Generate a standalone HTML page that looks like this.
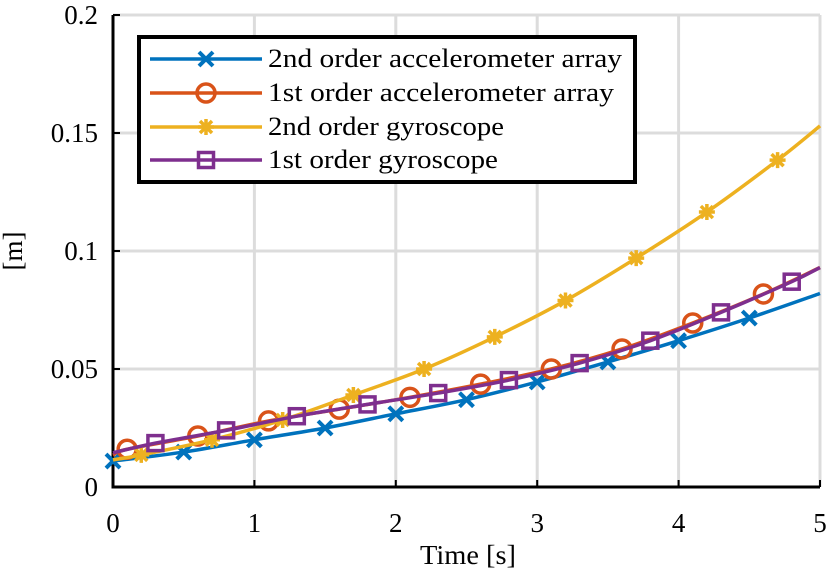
<!DOCTYPE html>
<html><head><meta charset="utf-8"><style>
body{margin:0;background:#fff}
svg{display:block;font-family:"Liberation Serif",serif}
</style></head><body>
<svg id="chart" width="830" height="576" viewBox="0 0 830 576"></svg>
<script>
const xTicks=[0,1,2,3,4,5];
const yTicks=[0,0.05,0.1,0.15,0.2];
const yTickLabels=["0","0.05","0.1","0.15","0.2"];
const blueT=[0,0.5,1,1.5,2,2.5,3,3.5,4,4.5,5];
const blueV=[0.011,0.0148,0.020,0.025,0.031,0.037,0.0445,0.053,0.062,0.0716,0.082];
const blueM=[0,0.5,1,1.5,2,2.5,3,3.5,4,4.5];
const orangeT=[0,0.1,0.6,1.1,1.6,2.1,2.6,3.1,3.6,4.1,4.6,5];
const orangeV=[0.0135,0.016,0.0216,0.028,0.033,0.038,0.0436,0.050,0.0585,0.0695,0.0818,0.093];
const orangeM=[0.1,0.6,1.1,1.6,2.1,2.6,3.1,3.6,4.1,4.6];
const yellowT=[0,0.2,0.7,1.2,1.7,2.2,2.7,3.2,3.7,4.2,4.7,5];
const yellowV=[0.0115,0.0136,0.020,0.0284,0.039,0.050,0.0636,0.079,0.097,0.1165,0.1385,0.153];
const yellowM=[0.2,0.7,1.2,1.7,2.2,2.7,3.2,3.7,4.2,4.7];
const purpleT=[0,0.3,0.8,1.3,1.8,2.3,2.8,3.3,3.8,4.3,4.8,5];
const purpleV=[0.0145,0.0186,0.024,0.030,0.035,0.0398,0.0453,0.0525,0.062,0.074,0.087,0.093];
const purpleM=[0.3,0.8,1.3,1.8,2.3,2.8,3.3,3.8,4.3,4.8];
const legendLabels=["2nd order accelerometer array","1st order accelerometer array","2nd order gyroscope","1st order gyroscope"];
const legendWidths=[354,346,236,230];

const X0=113,X1=820,Y0=487,Y1=15;
const sx=t=>X0+(X1-X0)*t/5;
const sy=v=>Y0-(Y0-Y1)*v/0.2;
const svg=document.getElementById('chart');
const NS='http://www.w3.org/2000/svg';
function mk(tag,attrs,parent){const e=document.createElementNS(NS,tag);for(const k in attrs)e.setAttribute(k,attrs[k]);(parent||svg).appendChild(e);return e;}
function interp(T,V,t){for(let i=0;i<T.length-1;i++){if(t>=T[i]&&t<=T[i+1]){const f=(t-T[i])/(T[i+1]-T[i]);return V[i]+f*(V[i+1]-V[i]);}}return V[V.length-1];}
const grid=mk('g',{});


xTicks.forEach(t=>{if(t>0)mk('line',{x1:sx(t),x2:sx(t),y1:Y1,y2:Y0,stroke:'#dcdcdc','stroke-width':3},grid);});
yTicks.forEach(v=>{if(v>0)mk('line',{x1:X0,x2:X1,y1:sy(v),y2:sy(v),stroke:'#dcdcdc','stroke-width':3},grid);});
const ax=mk('g',{});


mk('line',{x1:X0,x2:X0,y1:Y1,y2:Y0+1.5,stroke:'#000','stroke-width':3},ax);
mk('line',{x1:X0-1.5,x2:X1,y1:Y0,y2:Y0,stroke:'#000','stroke-width':3},ax);
xTicks.forEach(t=>{mk('line',{x1:sx(t),x2:sx(t),y1:Y0,y2:Y0-7,stroke:'#000','stroke-width':2},ax);
 const tx=mk('text',{x:sx(t),y:Y0+45,'text-anchor':'middle','font-size':27},ax);tx.textContent=t;
 });
yTicks.forEach((v,i)=>{mk('line',{x1:X0,x2:X0+7,y1:sy(v),y2:sy(v),stroke:'#000','stroke-width':2},ax);
 const tx=mk('text',{x:X0-15,y:sy(v)+9,'text-anchor':'end','font-size':27},ax);tx.textContent=yTickLabels[i];
 });
const xl=mk('text',{x:468,y:564,'text-anchor':'middle','font-size':27,textLength:96,lengthAdjust:'spacingAndGlyphs'});xl.textContent='Time [s]';

const yl=mk('text',{x:22,y:251,'text-anchor':'middle','font-size':27,transform:'rotate(-90 22 251)'});yl.textContent='[m]';

function marker(type,x,y,c,g){
 if(type==='x'){mk('path',{d:`M${x-7} ${y-7}L${x+7} ${y+7}M${x-7} ${y+7}L${x+7} ${y-7}`,stroke:c,'stroke-width':4,fill:'none'},g);}
 else if(type==='o'){mk('circle',{cx:x,cy:y,r:9,stroke:c,'stroke-width':3.5,fill:'none'},g);}
 else if(type==='*'){mk('path',{d:`M${x-8} ${y}L${x+8} ${y}M${x} ${y-8}L${x} ${y+8}M${x-6} ${y-6}L${x+6} ${y+6}M${x-6} ${y+6}L${x+6} ${y-6}`,stroke:c,'stroke-width':3.5,fill:'none'},g);}
 else {mk('rect',{x:x-7.5,y:y-7.5,width:15,height:15,stroke:c,'stroke-width':3.5,fill:'none'},g);}
}
const series=[
 {n:'series-2nd-order-accelerometer',T:blueT,V:blueV,M:blueM,c:'#0072BD',m:'x'},
 {n:'series-1st-order-accelerometer',T:orangeT,V:orangeV,M:orangeM,c:'#D95319',m:'o'},
 {n:'series-2nd-order-gyroscope',T:yellowT,V:yellowV,M:yellowM,c:'#EDB120',m:'*'},
 {n:'series-1st-order-gyroscope',T:purpleT,V:purpleV,M:purpleM,c:'#7E2F8E',m:'s'}];
series.forEach(s=>{
 const g=mk('g',{});
 
 
 const P=s.T.map((t,i)=>[sx(t),sy(s.V[i])]);
 let d=`M${P[0][0]} ${P[0][1]}`;
 for(let i=0;i<P.length-1;i++){const p0=P[Math.max(i-1,0)],p1=P[i],p2=P[i+1],p3=P[Math.min(i+2,P.length-1)];
  d+=`C${p1[0]+(p2[0]-p0[0])/6} ${p1[1]+(p2[1]-p0[1])/6} ${p2[0]-(p3[0]-p1[0])/6} ${p2[1]-(p3[1]-p1[1])/6} ${p2[0]} ${p2[1]}`;}
 mk('path',{d:d,stroke:s.c,'stroke-width':3.5,fill:'none'},g);
 s.M.forEach(t=>marker(s.m,sx(t),sy(interp(s.T,s.V,t)),s.c,g));
});
const lg=mk('g',{});


mk('rect',{x:139,y:37,width:496,height:145,fill:'#fff',stroke:'#000','stroke-width':4},lg);
const ly=[59,93,127,160];
series.forEach((s,i)=>{
 const e=mk('g',{},lg);
 
 
 mk('line',{x1:150,x2:262,y1:ly[i],y2:ly[i],stroke:s.c,'stroke-width':3.5},e);
 marker(s.m,206,ly[i],s.c,e);
 const t=mk('text',{x:268,y:ly[i]+8,'font-size':26,textLength:legendWidths[i],lengthAdjust:'spacingAndGlyphs'},e);t.textContent=legendLabels[i];
});
</script>
</body></html>
